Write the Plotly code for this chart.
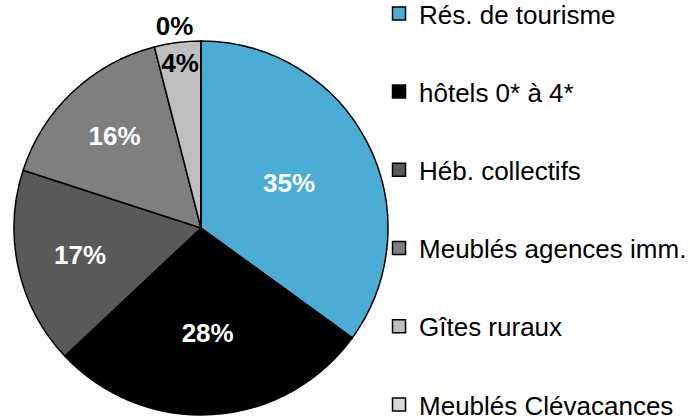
import plotly.graph_objects as go

# hébergements touristiques - part des nuitées
categories = [
    "Rés. de tourisme",
    "hôtels 0* à 4*",
    "Héb. collectifs",
    "Meublés agences imm.",
    "Gîtes ruraux",
    "Meublés Clévacances",
]
shares = [35, 28, 17, 16, 4, 0.01]
colors = ["#4BACD6", "#000000", "#595959", "#7F7F7F", "#BFBFBF", "#D9D9D9"]
text_colors = ["white", "white", "white", "white", "black", "black"]
text_pos = ["inside", "inside", "inside", "inside", "inside", "outside"]

FONT = "Arial, Liberation Sans, sans-serif"
FS = 26

fig = go.Figure()

fig.add_trace(
    go.Pie(
        labels=categories,
        values=shares,
        sort=False,
        direction="clockwise",
        rotation=0,
        marker=dict(colors=colors, line=dict(color="black", width=1.5)),
        texttemplate="%{percent:.0%}",
        textposition=text_pos,
        insidetextorientation="horizontal",
        textfont=dict(family=FONT, size=FS, color=text_colors, weight="bold"),
        hoverinfo="none",
        showlegend=False,
        domain=dict(x=[0.0203, 0.5623], y=[0.0119, 0.9024]),
    )
)

# legend entries (one per category so the rows can be spaced like the original)
for name, col in zip(categories, colors):
    fig.add_trace(
        go.Scatter(
            x=[None],
            y=[None],
            mode="markers",
            name=name,
            legendgroup=name,
            marker=dict(symbol="square", size=13, color=col,
                        line=dict(color="black", width=1.5)),
            hoverinfo="none",
        )
    )

fig.update_layout(
    width=690,
    height=420,
    margin=dict(l=0, r=0, t=0, b=0, autoexpand=False),
    paper_bgcolor="white",
    plot_bgcolor="white",
    font=dict(family=FONT, size=FS, color="black"),
    uniformtext=dict(minsize=FS, mode="show"),
    xaxis=dict(visible=False),
    yaxis=dict(visible=False),
    legend=dict(
        x=0.5493,
        y=1.0238,
        xanchor="left",
        yanchor="top",
        traceorder="grouped",
        tracegroupgap=41.4,
        font=dict(family=FONT, size=FS, color="black"),
        maxheight=700,
        bgcolor="rgba(0,0,0,0)",
    ),
)

# drop the page's default body margin so the figure sits at the window corner
fig.write_html(
    "out.html",
    config={"displayModeBar": False},
    post_script="document.body.style.margin = '0';",
)
